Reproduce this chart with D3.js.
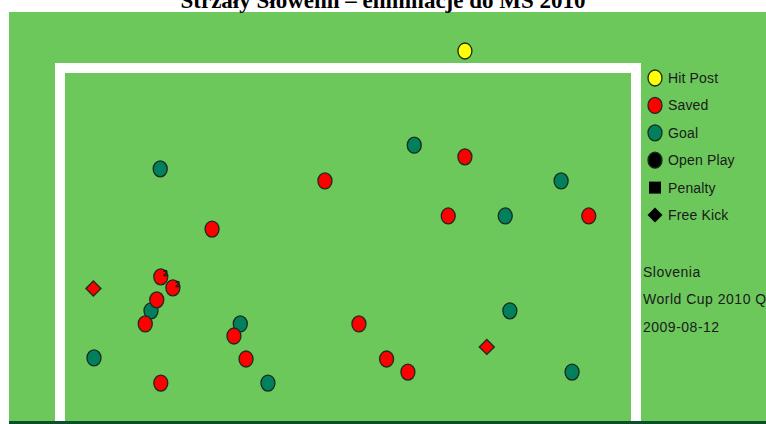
<!DOCTYPE html>
<html>
<head>
<meta charset="utf-8">
<script src="https://cdn.jsdelivr.net/npm/d3@7"></script>
<style>
  html, body { margin:0; padding:0; background:#fff; overflow:hidden; }
  svg { display:block; }
</style>
</head>
<body>
<svg id="chart" width="766" height="424"></svg>
<script>
// shots: x = % of goal width from left post, y = % of crossbar height above ground
const hitPostX = [70.3];
const hitPostY = [104.8];

const goalX = [17.4, 61.5, 87.0, 77.3, 15.8, 31.3, 78.1, 5.9, 36.1, 88.9];
const goalY = [71.5, 78.2, 68.1, 58.2, 31.4, 27.7, 31.4, 18.1, 11.0, 14.1];

const savedX = [70.3, 46.0, 67.4, 91.8, 26.4, 17.5, 19.6, 16.8, 14.8, 30.2, 32.3, 51.9, 56.7, 60.4, 17.5];
const savedY = [74.9, 68.1, 58.2, 58.2, 54.5, 41.0, 37.9, 34.5, 27.7, 24.3, 17.8, 27.7, 17.8, 14.1, 11.0];
const savedNote = ["", "", "", "", "", "2", "2", "", "", "", "", "", "", "", ""];

const freeKickX = [5.8, 74.1];
const freeKickY = [37.7, 21.2];

const legendLabels = ["Hit Post", "Saved", "Goal", "Open Play", "Penalty", "Free Kick"];
const infoLines = ["Slovenia", "World Cup 2010 Qualifying", "2009-08-12"];
const titleText = "Strzały Słowenii – eliminacje do MŚ 2010";

const col = { post:"#ffff00", saved:"#ff0000", goal:"#00805c", grass:"#6cc85a", line:"#1b2a1b" };

const svg = d3.select("#chart");

// pitch
svg.append("rect").attr("x", 9).attr("y", 12).attr("width", 757).attr("height", 410).attr("fill", col.grass);

// title
svg.append("text")
  .attr("x", 383).attr("y", 8)
  .attr("text-anchor", "middle")
  .style("font-family", "'Liberation Serif', 'Times New Roman', serif")
  .style("font-weight", "bold")
  .style("font-size", "23px")
  .text(titleText);

const x = d3.scaleLinear().domain([0, 100]).range([60, 636]);
const y = d3.scaleLinear().domain([0, 100]).range([422, 68]);

// goal frame
svg.append("path")
  .attr("d", `M${x(0)},${y(0.3)} L${x(0)},${y(100)} L${x(100)},${y(100)} L${x(100)},${y(0.3)}`)
  .attr("fill", "none")
  .attr("stroke", "#fff")
  .attr("stroke-width", 10)
  .attr("stroke-linejoin", "miter");

// ground line
svg.append("rect").attr("x", 9).attr("y", 421).attr("width", 757).attr("height", 3).attr("fill", "#0b4f2c");

function dots(xs, ys, fill){
  svg.append("g").selectAll("ellipse")
    .data(xs.map((d, i) => ({x:d, y:ys[i]})))
    .join("ellipse")
    .attr("cx", d => x(d.x))
    .attr("cy", d => y(d.y))
    .attr("rx", 7).attr("ry", 8)
    .attr("fill", fill)
    .attr("stroke", col.line)
    .attr("stroke-width", 1.3);
}

dots(hitPostX, hitPostY, col.post);
dots(goalX, goalY, col.goal);
dots(savedX, savedY, col.saved);

// free kicks
svg.append("g").selectAll("path")
  .data(freeKickX.map((d, i) => ({x:d, y:freeKickY[i]})))
  .join("path")
  .attr("transform", d => `translate(${x(d.x)},${y(d.y)})`)
  .attr("d", "M0,-7.5 L7.5,0 L0,7.5 L-7.5,0 Z")
  .attr("fill", col.saved)
  .attr("stroke", col.line)
  .attr("stroke-width", 1.3);

// small notes on repeated shots
svg.append("g").selectAll("text")
  .data(savedX.map((d, i) => ({x:d, y:savedY[i], t:savedNote[i]})).filter(d => d.t))
  .join("text")
  .attr("x", d => x(d.x) + 2)
  .attr("y", d => y(d.y) - 1)
  .style("font-family", "'Liberation Sans', Arial, sans-serif")
  .style("font-size", "9px")
  .attr("fill", "none")
  .attr("stroke", "#111")
  .attr("stroke-width", 0.6)
  .text(d => d.t);

// legend
const lg = svg.append("g").attr("transform", "translate(655,78)");
const rowH = 27.4;
const legendFill = [col.post, col.saved, col.goal, "#000", "#000", "#000"];
legendLabels.forEach((lab, i) => {
  const g = lg.append("g").attr("transform", `translate(0,${i * rowH})`);
  if (i < 4) {
    g.append("ellipse").attr("rx", 7).attr("ry", 8).attr("fill", legendFill[i])
      .attr("stroke", col.line).attr("stroke-width", 1.3);
  } else if (i === 4) {
    g.append("rect").attr("x", -6).attr("y", -6).attr("width", 12).attr("height", 12).attr("fill", "#000");
  } else {
    g.append("path").attr("d", "M0,-7.5 L7.5,0 L0,7.5 L-7.5,0 Z").attr("fill", "#000");
  }
  g.append("text")
    .attr("x", 13).attr("y", 5)
    .style("font-family", "'Liberation Sans', Arial, sans-serif")
    .style("font-size", "14px")
    .style("letter-spacing", "0.15px")
    .attr("fill", "#1a1a1a")
    .text(lab);
});

// match info
svg.append("g").selectAll("text")
  .data(infoLines)
  .join("text")
  .attr("x", 643)
  .attr("y", (d, i) => 277 + i * 27.4)
  .style("font-family", "'Liberation Sans', Arial, sans-serif")
  .style("font-size", "14px")
  .style("letter-spacing", "0.5px")
  .attr("fill", "#1a1a1a")
  .text(d => d);
</script>
</body>
</html>
